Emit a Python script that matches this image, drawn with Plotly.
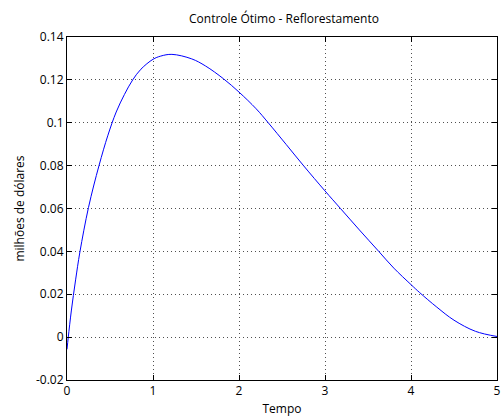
import plotly.graph_objects as go

# Values
tempo = [0.0, 0.015, 0.05, 0.1, 0.15, 0.25, 0.372, 0.476, 0.572, 0.668, 0.764,
         0.86, 1.0, 1.09, 1.22, 1.45, 1.61, 1.82, 2.0, 2.2, 2.34, 2.55,
         2.75, 3.0, 3.18, 3.4, 3.625, 3.8, 4.0, 4.1, 4.3, 4.5, 4.75, 5.0]
controle = [-0.0057, 0.0, 0.0122, 0.0267, 0.0397, 0.0605, 0.080, 0.0942, 0.105, 0.1132, 0.1200,
            0.1250, 0.1296, 0.1311, 0.1319, 0.1298, 0.1265, 0.1205, 0.1143, 0.1065, 0.1000, 0.0898,
            0.0800, 0.0682, 0.0600, 0.0500, 0.0400, 0.0322, 0.0245, 0.0208, 0.0140, 0.0079, 0.0027, 0.0003]

x_ticks = [0, 1, 2, 3, 4, 5]
y_ticks = [-0.02, 0, 0.02, 0.04, 0.06, 0.08, 0.1, 0.12, 0.14]
y_labels = ["-0.02", "0", "0.02", "0.04", "0.06", "0.08", "0.1", "0.12", "0.14"]

font = "Open Sans, DejaVu Sans, sans-serif"

fig = go.Figure()
fig.add_trace(go.Scatter(x=tempo, y=controle, mode="lines",
                         line=dict(color="rgb(0,0,255)", width=1, shape="spline", smoothing=1.0),
                         showlegend=False))

axis_common = dict(showline=True, linecolor="black", linewidth=1, mirror="ticks",
                   ticks="inside", ticklen=5, tickcolor="black",
                   showgrid=True, gridcolor="rgb(80,80,80)", griddash="1px,3px", gridwidth=1,
                   zeroline=False, ticklabeloverflow="allow",
                   tickfont=dict(family=font, size=12, color="black"))

fig.update_layout(
    width=504, height=418,
    margin=dict(l=67, r=3, t=37, b=38),
    paper_bgcolor="white", plot_bgcolor="white",
    font=dict(family=font, size=12, color="black"),
    title=dict(text="Controle Ótimo - Reflorestamento", x=(67 + 501) / 2 / 504, xanchor="center",
               y=1 - 19 / 418, yanchor="middle", font=dict(family=font, size=12, color="black")),
    xaxis=dict(range=[0, 5], tickvals=x_ticks, ticktext=[str(v) for v in x_ticks],
               title=dict(text="Tempo", standoff=6, font=dict(family=font, size=12)), **axis_common),
    yaxis=dict(range=[-0.02, 0.14], tickvals=y_ticks, ticktext=y_labels,
               title=dict(text="milhões de dólares", standoff=8, font=dict(family=font, size=12)), **axis_common),
)

fig.write_html("out.html")
